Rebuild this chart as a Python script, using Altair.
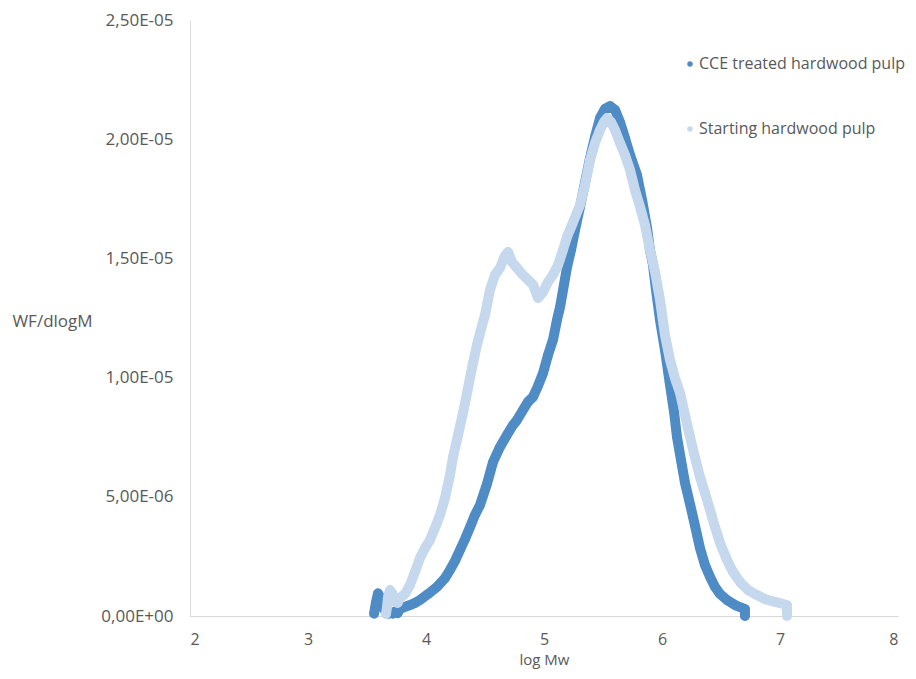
import altair as alt
import pandas as pd

# ---- data ----
series_names = ["CCE treated hardwood pulp", "Starting hardwood pulp"]
series_colors = ["#4f8cc6", "#c5d8ed"]

cce_logmw = [3.560, 3.575, 3.593, 3.610, 3.627, 3.644, 3.661, 3.680, 3.695, 3.720,
             3.737, 3.760, 3.780, 3.822, 3.864, 3.907,
             3.949, 4.017, 4.093, 4.161, 4.203, 4.246, 4.288, 4.331, 4.373, 4.415,
             4.458, 4.517, 4.568, 4.627, 4.686, 4.737, 4.771, 4.822, 4.864, 4.907,
             4.949, 4.992, 5.034, 5.076, 5.110, 5.136, 5.169, 5.195, 5.229, 5.263,
             5.305, 5.347, 5.390, 5.432, 5.475, 5.517, 5.559, 5.602, 5.644, 5.686,
             5.729, 5.788, 5.831, 5.873, 5.898, 5.924, 5.949, 5.983, 6.025, 6.068,
             6.102, 6.127, 6.161, 6.195, 6.229, 6.263, 6.297, 6.322, 6.364, 6.407,
             6.449, 6.492, 6.551, 6.619, 6.703, 6.703]
cce_wf = [0.10e-6, 0.55e-6, 0.95e-6, 0.80e-6, 0.60e-6, 0.30e-6, 0.15e-6, 0.10e-6, 0.12e-6, 0.10e-6,
          0.18e-6, 0.12e-6, 0.30e-6, 0.38e-6, 0.46e-6, 0.55e-6,
          0.67e-6, 0.92e-6, 1.22e-6, 1.59e-6, 1.93e-6, 2.31e-6, 2.77e-6, 3.23e-6, 3.73e-6, 4.24e-6,
          4.66e-6, 5.54e-6, 6.46e-6, 7.09e-6, 7.59e-6, 8.01e-6, 8.22e-6, 8.64e-6, 8.98e-6, 9.19e-6,
          9.65e-6, 10.19e-6, 10.95e-6, 11.58e-6, 12.42e-6, 12.96e-6, 13.89e-6, 14.64e-6, 15.35e-6, 16.19e-6,
          17.16e-6, 18.16e-6, 19.21e-6, 20.09e-6, 20.89e-6, 21.27e-6, 21.39e-6, 21.23e-6, 20.72e-6, 20.05e-6,
          19.34e-6, 18.50e-6, 17.45e-6, 16.28e-6, 15.35e-6, 14.72e-6, 13.68e-6, 12.42e-6, 11.16e-6, 9.69e-6,
          8.56e-6, 7.51e-6, 6.54e-6, 5.58e-6, 4.87e-6, 4.15e-6, 3.40e-6, 2.85e-6, 2.14e-6, 1.64e-6,
          1.22e-6, 0.92e-6, 0.67e-6, 0.46e-6, 0.29e-6, 0.0]

start_logmw = [3.661, 3.670, 3.678, 3.695, 3.715, 3.737, 3.760, 3.780, 3.822, 3.864, 3.907, 3.949, 3.992,
               4.034, 4.076, 4.119, 4.161, 4.203, 4.229, 4.271, 4.314, 4.356, 4.398,
               4.432, 4.458, 4.500, 4.542, 4.585, 4.627, 4.669, 4.695, 4.729, 4.771,
               4.814, 4.864, 4.907, 4.949, 4.992, 5.034, 5.076, 5.119, 5.161, 5.195,
               5.237, 5.271, 5.305, 5.347, 5.390, 5.432, 5.475, 5.508, 5.534, 5.568,
               5.602, 5.644, 5.686, 5.729, 5.771, 5.814, 5.856, 5.898, 5.941, 5.983,
               6.025, 6.068, 6.110, 6.153, 6.195, 6.237, 6.280, 6.322, 6.364, 6.407,
               6.449, 6.492, 6.551, 6.602, 6.661, 6.729, 6.805, 6.873, 6.958, 7.059,
               7.059]
start_wf = [0.08e-6, 0.40e-6, 0.80e-6, 1.09e-6, 0.95e-6, 0.60e-6, 0.55e-6, 0.76e-6, 0.92e-6, 1.30e-6, 1.85e-6, 2.43e-6, 2.85e-6,
            3.19e-6, 3.69e-6, 4.24e-6, 4.95e-6, 5.91e-6, 6.67e-6, 7.59e-6, 8.52e-6, 9.56e-6, 10.61e-6,
            11.37e-6, 11.87e-6, 12.63e-6, 13.68e-6, 14.31e-6, 14.60e-6, 15.10e-6, 15.27e-6, 14.85e-6, 14.60e-6,
            14.35e-6, 14.10e-6, 13.89e-6, 13.34e-6, 13.59e-6, 14.01e-6, 14.31e-6, 14.72e-6, 15.35e-6, 15.90e-6,
            16.40e-6, 16.82e-6, 17.24e-6, 18.08e-6, 19.13e-6, 19.84e-6, 20.39e-6, 20.72e-6, 20.89e-6, 20.72e-6,
            20.39e-6, 19.84e-6, 19.34e-6, 18.71e-6, 17.87e-6, 17.16e-6, 16.40e-6, 15.35e-6, 14.43e-6, 13.26e-6,
            11.79e-6, 10.74e-6, 9.98e-6, 9.35e-6, 8.43e-6, 7.51e-6, 6.63e-6, 5.83e-6, 5.16e-6, 4.45e-6,
            3.73e-6, 3.06e-6, 2.35e-6, 1.85e-6, 1.43e-6, 1.09e-6, 0.88e-6, 0.71e-6, 0.59e-6, 0.46e-6,
            0.0]

x_ticks = [2, 3, 4, 5, 6, 7, 8]
y_ticks = [0, 5e-6, 1e-5, 1.5e-5, 2e-5, 2.5e-5]
y_tick_labels = ["0,00E+00", "5,00E-06", "1,00E-05", "1,50E-05", "2,00E-05", "2,50E-05"]

rows = []
for i, (x, y) in enumerate(zip(cce_logmw, cce_wf)):
    rows.append({"series": series_names[0], "logmw": x, "wf": y, "order": i})
for i, (x, y) in enumerate(zip(start_logmw, start_wf)):
    rows.append({"series": series_names[1], "logmw": x, "wf": y, "order": i})
df = pd.DataFrame(rows)

FONT = "Open Sans"
TXT = "#595959"
FS = 17
label_expr = "[" + ",".join("'%s'" % s for s in y_tick_labels) + "][round(datum.value / 5e-6)]"

x_enc = alt.X("logmw:Q",
              scale=alt.Scale(domain=[2, 8], nice=False, zero=False),
              axis=alt.Axis(values=x_ticks, ticks=False, grid=False, domainColor="#d9d9d9",
                            labelFont=FONT, labelFontSize=16, labelColor=TXT, labelPadding=15,
                            title="log Mw", titleFont=FONT, titleFontSize=15, titleFontWeight="normal",
                            titleColor=TXT, titleY=43, titleBaseline="middle"))
y_enc = alt.Y("wf:Q",
              scale=alt.Scale(domain=[0, 2.5e-5], nice=False),
              axis=alt.Axis(values=y_ticks, ticks=False, grid=False, domainColor="#d9d9d9",
                            labelExpr=label_expr,
                            labelFont=FONT, labelFontSize=FS, labelColor=TXT, labelPadding=17,
                            title="WF/dlogM", titleFont=FONT, titleFontSize=FS, titleFontWeight="normal",
                            titleColor=TXT, titleAngle=0, titleX=-138, titleY=301,
                            titleAlign="center", titleBaseline="middle"))

color_enc = alt.Color("series:N",
                      scale=alt.Scale(domain=series_names, range=series_colors),
                      legend=alt.Legend(title=None, orient="none", legendX=492, legendY=36,
                                        symbolType="circle", symbolSize=30, symbolStrokeWidth=0,
                                        labelFont=FONT, labelFontSize=16, labelColor=TXT,
                                        labelLimit=0, labelOffset=1, rowPadding=49))

layers = []
for name, col in zip(series_names, series_colors):
    base = alt.Chart(df).transform_filter(alt.datum.series == name)
    line = base.mark_line(strokeWidth=10, strokeCap="round", strokeJoin="round", color=col).encode(
        x=x_enc, y=y_enc, order="order:Q")
    pts = base.mark_circle(size=85, opacity=1).encode(x=x_enc, y=y_enc, color=color_enc)
    layers += [line, pts]

chart = alt.layer(*layers).properties(
    width=708, height=596,
    padding={"left": 182, "top": 12, "right": 10, "bottom": 55},
    autosize=alt.AutoSizeParams(type="none"),
).configure_view(stroke=None)

chart.save("out.html", embed_options={"renderer": "svg", "actions": False})
